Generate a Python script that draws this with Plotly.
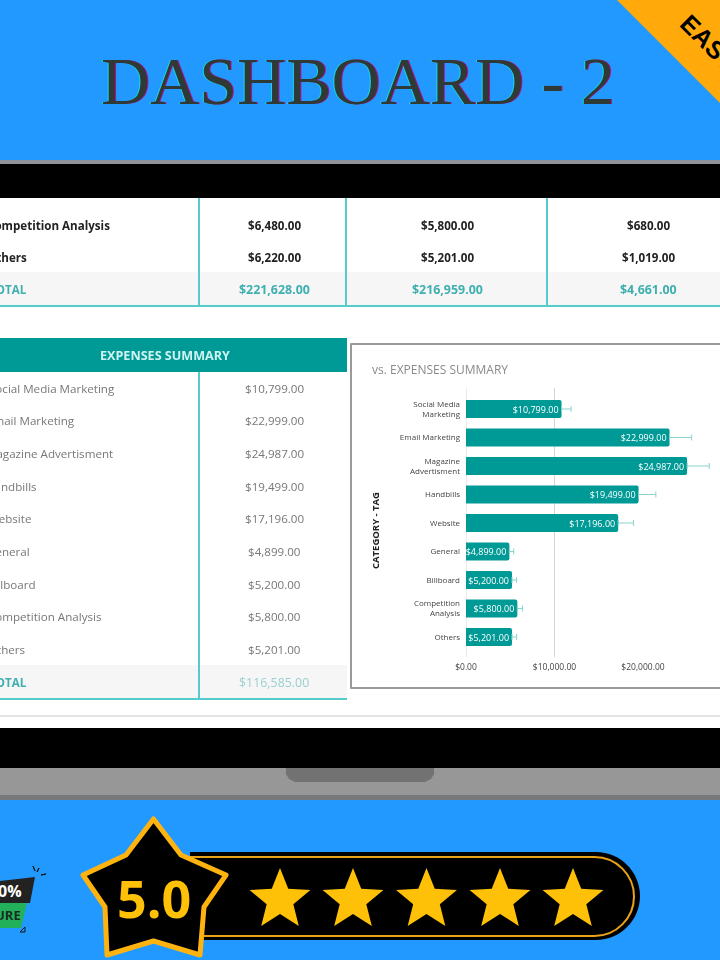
import math
import plotly.graph_objects as go

W, H = 720, 960

# chart data
categories = ['Social Media<br>Marketing', 'Email Marketing', 'Magazine<br>Advertisment', 'Handbills', 'Website',
              'General', 'Billboard', 'Competition<br>Analysis', 'Others']
expenses = [10799, 22999, 24987, 19499, 17196, 4899, 5200, 5800, 5201]
expense_errors = [1080, 2500, 2500, 1950, 1720, 490, 520, 580, 520]
x_ticks = [0, 10000, 20000]
x_tick_labels = ['$0.00', '$10,000.00', '$20,000.00']

# top table (rows cut off by the screenshot)
top_rows = ['Competition Analysis', 'Others', 'TOTAL']
top_ends = [110, 27, 27]
top_budget = ['$6,480.00', '$6,220.00', '$221,628.00']
top_actual = ['$5,800.00', '$5,201.00', '$216,959.00']
top_diff = ['$680.00', '$1,019.00', '$4,661.00']

# lower table
low_rows = ['Social Media Marketing', 'Email Marketing', 'Magazine Advertisment', 'Handbills', 'Website',
            'General', 'Billboard', 'Competition Analysis', 'Others', 'TOTAL']
low_ends = [115, 75, 113, 37, 31, 30, 36, 101, 25, 27]
low_values = ['$10,799.00', '$22,999.00', '$24,987.00', '$19,499.00', '$17,196.00',
              '$4,899.00', '$5,200.00', '$5,800.00', '$5,201.00', '$116,585.00']

star_x = [280, 353, 426.5, 500, 573]

BLUE = '#2299FF'
TEAL = '#009A96'
LINE = '#56CBCB'
GOLD = '#FFC107'


def px(x):
    return x / W


def py(y):
    return 1 - y / H


def pt(x, y):
    return f'{px(x):.5f},{py(y):.5f}'


shapes = []
annotations = []


def rect(x0, y0, x1, y1, fill, line=None, lw=0):
    shapes.append(dict(type='rect', xref='paper', yref='paper', x0=px(x0), x1=px(x1), y0=py(y0), y1=py(y1),
                       fillcolor=fill, line=dict(color=line or fill, width=lw), layer='below'))


def poly(points, fill, line=None, lw=0, layer='below'):
    d = 'M' + 'L'.join(pt(x, y) for x, y in points) + 'Z'
    shapes.append(dict(type='path', xref='paper', yref='paper', path=d, fillcolor=fill,
                       line=dict(color=line or fill, width=lw), layer=layer))


def pill(x0, y0, x1, y1, fill, line=None, lw=0, layer='below'):
    # square on the left (hidden by the big star), round on the right
    r = (y1 - y0) / 2
    k = r * 0.55
    d = (f'M{pt(x0, y0)}L{pt(x1 - r, y0)}C{pt(x1 - r + k, y0)} {pt(x1, y0 + r - k)} {pt(x1, y0 + r)}'
         f'C{pt(x1, y0 + r + k)} {pt(x1 - r + k, y1)} {pt(x1 - r, y1)}L{pt(x0, y1)}')
    shapes.append(dict(type='path', xref='paper', yref='paper', path=d, fillcolor=fill,
                       line=dict(color=line or fill, width=lw), layer=layer))


def label(x, y, text, size=9, color='#444', anchor='center', bold=False, font='Open Sans', angle=0, shadow=None):
    f = dict(family=font, size=size, color=color, weight=700 if bold else 400)
    if shadow:
        f['shadow'] = shadow
    annotations.append(dict(xref='paper', yref='paper', x=px(x), y=py(y), text=text, showarrow=False,
                            xanchor=anchor, yanchor='middle', font=f, textangle=angle, borderpad=0, borderwidth=0))


# page frame
rect(0, 160, W, 164, '#8F9299')
rect(0, 164, W, 198, '#000000')
rect(0, 198, W, 728, '#FFFFFF')
rect(0, 728, W, 768, '#000000')
rect(0, 768, W, 795, '#979797')
rect(0, 795, W, 800, '#767879')
poly([(286, 768), (434, 768), (434, 774), (431, 779), (425, 782), (295, 782), (289, 779), (286, 774)], '#727272')

# header
poly([(617, 0), (W, 0), (W, 103)], '#FFA90A')
label(358, 81, 'DASHBOARD - 2', size=68, color='#2F3A37', font='Liberation Serif',
      shadow='1px 0 0 #B0109A, -1px 0 0 #19D8E0')
label(709, 43, 'EASY', size=25, color='#000000', bold=True, font='Liberation Sans', angle=45)

# top table
rect(0, 272, W, 305, '#F6F6F6')
rect(0, 305, W, 307, LINE)
for vx in [199, 346, 547]:
    rect(vx - 1, 198, vx + 1, 306, LINE)
for i, name in enumerate(top_rows):
    y = 225 + i * 32.5
    total = name == 'TOTAL'
    col = '#3FAFB0' if total else '#222222'
    size = 12.4 if total else 11.6
    label(top_ends[i], y, name, size=11.6, color=col, anchor='right', bold=True)
    label(274, y, top_budget[i], size=size, color=col, bold=True)
    label(447, y, top_actual[i], size=size, color=col, bold=True)
    label(648, y, top_diff[i], size=size, color=col, bold=True)

# lower table
rect(0, 338, 347, 372, TEAL)
label(165, 355, 'EXPENSES SUMMARY', size=12.6, color='#CFF3F1', bold=True)
rect(0, 665, 347, 698, '#F6F6F6')
rect(198, 372, 200, 698, LINE)
rect(0, 698, 347, 700, LINE)
rect(0, 715, W, 717, '#E4E4E4')
for i, name in enumerate(low_rows):
    y = 388 + i * 32.7
    total = name == 'TOTAL'
    label(low_ends[i], y, name, size=11.6, color='#3FAFB0' if total else '#777777', anchor='right', bold=total)
    label(274, y, low_values[i], size=12.4 if total else 11.6, color='#9CCFD0' if total else '#777777')

# chart panel
rect(351, 344, W + 5, 688, '#FFFFFF', line='#9A9A9A', lw=2)
label(372, 369, 'vs. EXPENSES SUMMARY', size=12, color='#8A8A8A', anchor='left')
label(375, 531, 'CATEGORY - TAG', size=9.5, color='#222222', bold=True, angle=-90)

# rating badge
pill(190, 852, 640, 940, '#000000')
pill(190, 857, 634, 936, 'rgba(0,0,0,0)', line='#E8A317', lw=2)
big_star = [(153.5, 819), (181, 855), (226, 875), (204, 907), (200, 955), (153.5, 941), (107, 955), (105, 907),
            (83, 875), (126, 855)]
poly(big_star, '#000000', line='#FFB30F', lw=5, layer='below')
label(153.5, 897, '5.0', size=52, color=GOLD, bold=True)
for cx in star_x:
    pts = []
    for k in range(10):
        a = math.radians(-90 + 36 * k)
        r = 32 if k % 2 == 0 else 14
        pts.append((cx + r * math.cos(a), 900 + r * math.sin(a)))
    poly(pts, GOLD)

# money back sticker, cut by the left edge
poly([(0, 881), (35, 877), (30, 903), (0, 903)], '#222222')
poly([(0, 903), (27, 903), (21, 928), (0, 928)], '#22B15A')
label(10, 891, '0%', size=16, color='#FFFFFF', bold=True)
label(8, 915, 'URE', size=13, color='#1B2B20', bold=True)
for a, b in [((33, 866), (35, 871)), ((39, 868), (37, 872)), ((46, 874), (41, 875))]:
    poly([a, b], 'rgba(0,0,0,0)', line='#111111', lw=1)
poly([(25, 927), (25, 932), (20, 932)], 'rgba(0,0,0,0)', line='#111111', lw=1)

fig = go.Figure(go.Bar(
    y=categories, x=expenses, orientation='h',
    marker=dict(color=TEAL, line=dict(width=0)),
    error_x=dict(type='data', array=expense_errors, arrayminus=[0] * len(expenses), symmetric=False,
                 color='#8AD3CC', thickness=1, width=3),
    texttemplate='$%{x:,.2f}', textposition='inside', insidetextanchor='end', textangle=0,
    textfont=dict(family='Open Sans', size=9, color='#FFFFFF'), constraintext='none', cliponaxis=False,
))

# gridlines stop short of the last tick, so they are drawn by hand
for v in x_ticks[:2]:
    shapes.append(dict(type='line', xref='x', yref='paper', x0=v, x1=v, y0=py(657), y1=py(388),
                       line=dict(color='#D5D5D5', width=1), layer='below'))

fig.update_layout(
    width=W, height=H, margin=dict(l=0, r=0, t=0, b=0, autoexpand=False), paper_bgcolor=BLUE,
    plot_bgcolor='rgba(0,0,0,0)',
    showlegend=False, bargap=0.36, barcornerradius=2, shapes=shapes, annotations=annotations,
    xaxis=dict(domain=[px(466), 1], range=[0, 28700], tickvals=x_ticks, ticktext=x_tick_labels, showgrid=False,
               zeroline=False, showline=False, ticks='', ticklabelstandoff=9, automargin=False,
               tickfont=dict(family='Open Sans', size=8.5, color='#444444'), anchor='y'),
    yaxis=dict(domain=[py(651.25), py(394.75)], autorange='reversed', showgrid=False, zeroline=False, showline=False,
               ticks='', ticklabelstandoff=5, type='category', anchor='x', automargin=False,
               tickfont=dict(family='Open Sans', size=8, color='#444444')),
)

# rounded corners on the big star, soft text on the screenshot part
post = """document.body.style.margin='0';document.body.style.overflow='hidden';
document.querySelectorAll('.shapelayer path').forEach(function(p){p.style.strokeLinejoin='round';});
document.querySelectorAll('.xtick text,.ytick text,.bartext').forEach(function(t){t.style.filter='blur(0.5px)';});
document.querySelectorAll('.annotation-text').forEach(function(t){
  if (parseFloat(t.style.fontSize) < 14) t.style.filter='blur(0.5px)';
});"""
fig.write_html('out.html', config=dict(displayModeBar=False), post_script=post)
